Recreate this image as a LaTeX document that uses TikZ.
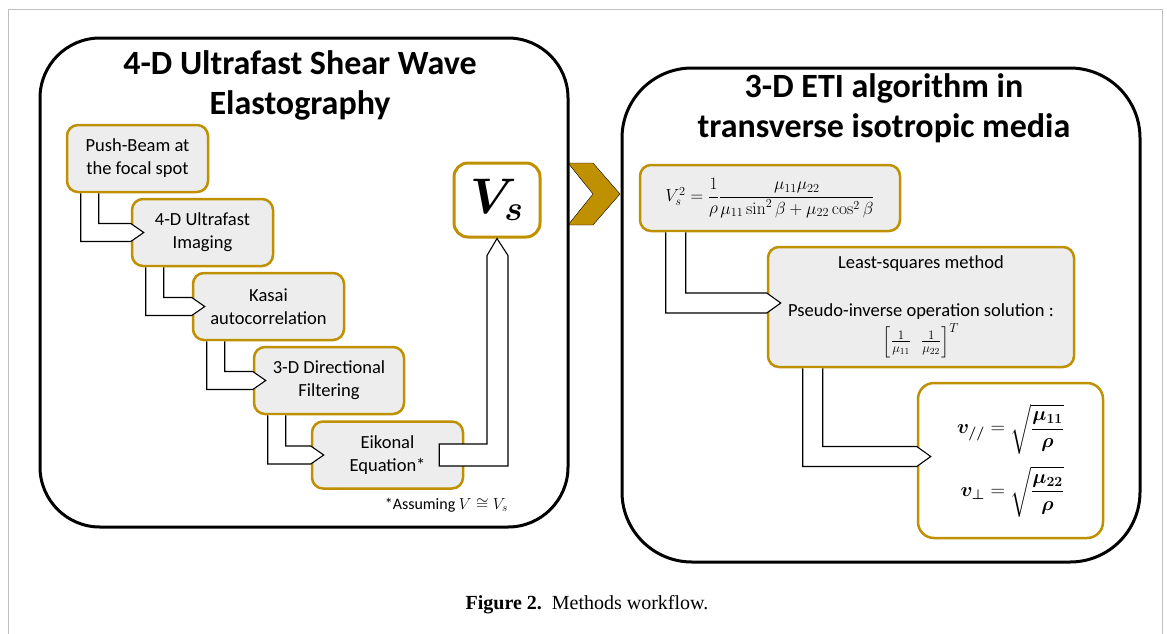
\RequirePackage{fix-cm}
\documentclass[tikz,border=0pt]{standalone}
\usepackage{amsmath}
\usepackage{bm}
\usepackage[no-math]{fontspec}
\setmainfont{Carlito}
\newfontfamily\captionFont{Liberation Serif}
\usetikzlibrary{calc}
\definecolor{stepGold}{HTML}{BF9000}
\definecolor{stepGray}{HTML}{EDEDED}

\begin{document}
\begin{tikzpicture}
[x=1pt,y=-1pt,every node/.style={inner sep=4pt},%
  panel/.style={draw,line width=3pt,rounded corners=60pt},
  titleText/.style={align=center,font=\fontsize{34}{40}\selectfont\bfseries},
  stepBox/.style={draw=stepGold,fill=stepGray,line width=2.5pt,rounded corners=11pt,
    align=center,minimum height=67pt,font=\fontsize{18.5}{23}\selectfont},
  outBox/.style={stepBox,fill=white},
  blockArrow/.style={draw,fill=white,line width=1.1pt,line join=miter}]
\useasboundingbox (0,0) rectangle (1167,633);
\draw[black!25,line width=1pt] (8,640) |- (1162,9) -- (1162,640);
\filldraw[fill=stepGold,draw=black,thin] (568,163) -- (593,163) -- (620,194)
  -- (593,225) -- (568,225) -- (593,194) -- cycle;

\node[panel,minimum width=528pt,minimum height=489pt] (swePanel) at (304,282.5) {};
\node[panel,rounded corners=70pt,minimum width=518pt,minimum height=494pt] (etiPanel) at (881,315) {};
\node[titleText] (sweTitle) at (300,85) {4-D Ultrafast Shear Wave\\Elastography};
\node[titleText] (etiTitle) at (884,108) {3-D ETI algorithm in\\transverse isotropic media};

\node[stepBox,minimum width=141pt] (push) at (137.5,158.5) {Push-Beam at\\the focal spot};
\node[stepBox,minimum width=141pt] (imaging) at (202.5,232.5) {4-D Ultrafast\\Imaging};
\node[stepBox,minimum width=151pt] (kasai) at (268.5,306.5) {Kasai\\autocorrelation};
\node[stepBox,minimum width=150pt] (filter) at (329,380.5) {3-D Directional\\Filtering};
\node[stepBox,minimum width=151pt] (eikonal) at (387.5,455) {Eikonal\\Equation*};
\node[outBox,minimum width=86pt,minimum height=74pt,rounded corners=14pt,line width=3pt,
  font=\fontsize{50}{60}\selectfont] (vs) at (497,200) {$\bm{V_s}$};
\node[font=\fontsize{16}{18}\selectfont,anchor=east,inner sep=1pt] (assume) at (509,505) {*Assuming $V\cong V_s$};

\node[stepBox,minimum width=260pt,minimum height=66pt,font=\fontsize{17.5}{21}\selectfont] (formula)
  at (770,198) {$V_s^{2}=\dfrac{1}{\rho}\dfrac{\mu_{11}\mu_{22}}{\mu_{11}\sin^2\beta+\mu_{22}\cos^2\beta}$};
\node[stepBox,minimum width=306pt,minimum height=120pt] (lsq) at (921,307)
  {Least-squares method\\[25pt]Pseudo-inverse operation solution :\\[3pt]
   $\begin{bmatrix}\frac{1}{\mu_{11}} & \frac{1}{\mu_{22}}\end{bmatrix}^{T}$};
\node[outBox,minimum width=185pt,minimum height=155pt,rounded corners=16pt,
  font=\fontsize{20}{24}\selectfont] (speeds) at (1010.5,460.5)
  {$\displaystyle\begin{aligned}\bm{v_{//}} &= \sqrt{\frac{\bm{\mu_{11}}}{\bm{\rho}}}\\[8pt]
   \bm{v_{\perp}} &= \sqrt{\frac{\bm{\mu_{22}}}{\bm{\rho}}}\end{aligned}$};

\foreach \startNode/\endNode in {push/imaging,imaging/kasai,kasai/filter,filter/eikonal}
{
  \draw[blockArrow] ($(\startNode.south west)+(15,0)$) |- ($(\endNode.west)+(0,9)$)
    -- ($(\endNode.west)+(13,0)$) -- ($(\endNode.west)+(0,-9)$) -| ($(\startNode.south west)+(33,0)$);
}
\draw[blockArrow] ($(eikonal.east)+(-25,-11)$) -| ($(vs.south)+(-10,17)$) -- (vs.south)
  -- ($(vs.south)+(11,17)$) |- ($(eikonal.east)+(-25,11)$) -- cycle;
\foreach \startNode/\endNode/\xOffset in {formula/lsq/27,lsq/speeds/36}
{
  \draw[blockArrow] ($(\startNode.south west)+(\xOffset,0)$) |- ($(\endNode.west)+(0,6)$)
    -- ($(\endNode.west)+(14,-4)$) -- ($(\endNode.west)+(0,-14)$) -| ($(\startNode.south west)+(\xOffset+20,0)$);
}

\node[font=\captionFont\fontsize{20}{24}\selectfont] (caption) at (587,605)
  {\textbf{Figure 2.}\enspace Methods workflow.};
\end{tikzpicture}
\end{document}
